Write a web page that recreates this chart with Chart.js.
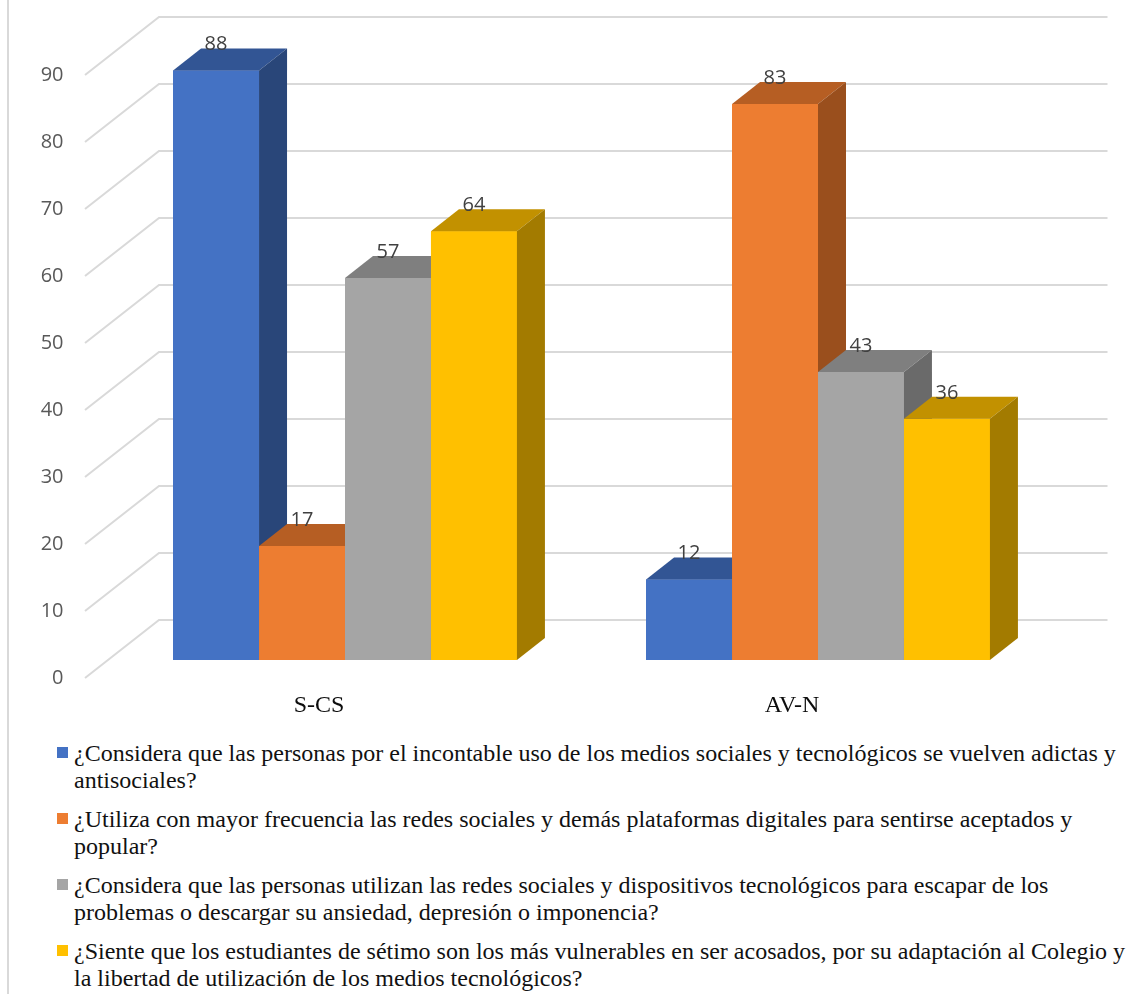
<!DOCTYPE html>
<html lang="es">
<head>
<meta charset="utf-8">
<title>Gráfico S-CS / AV-N</title>
<script src="https://cdn.jsdelivr.net/npm/chart.js@4/dist/chart.umd.min.js"></script>
<style>
    body { margin: 0; background: #fff; }
    #wrap { position: relative; width: 1146px; height: 994px; overflow: hidden; }
    #frame { position: absolute; left: 7px; top: 0; width: 2px; height: 994px; background: #d9d9d9; }
    #chart { position: absolute; left: 0; top: 0; }
    #legend { position: absolute; left: 0; top: 740px; width: 1146px; }
    .item { position: relative; padding-left: 74px; margin-bottom: 12px; white-space: nowrap;
            font: 24px "Liberation Serif", "Times New Roman", serif; line-height: 27px; color: #111; }
    .box { position: absolute; left: 57px; top: 7px; width: 11px; height: 11px; }
</style>
</head>
<body>
<div id="wrap">
    <div id="frame"></div>
    <canvas id="chart" width="1146" height="730"></canvas>
    <div id="legend"></div>
</div>
<script>
// Datos del gráfico
const categories = ['S-CS', 'AV-N'];
const adictosValues = [88, 12];
const aceptadosValues = [17, 83];
const escaparValues = [57, 43];
const vulnerablesValues = [64, 36];
const yTicks = [0, 10, 20, 30, 40, 50, 60, 70, 80, 90];

const seriesLabels = [
    ['¿Considera que las personas por el incontable uso de los medios sociales y tecnológicos se vuelven adictas y',
     'antisociales?'],
    ['¿Utiliza con mayor frecuencia las redes sociales y demás plataformas digitales para sentirse aceptados y',
     'popular?'],
    ['¿Considera que las personas utilizan las redes sociales y dispositivos tecnológicos para escapar de los',
     'problemas o descargar su ansiedad, depresión o imponencia?'],
    ['¿Siente que los estudiantes de sétimo son los más vulnerables en ser acosados, por su adaptación al Colegio y',
     'la libertad de utilización de los medios tecnológicos?']
];
const seriesValues = [adictosValues, aceptadosValues, escaparValues, vulnerablesValues];

// Colores: cara frontal, superior y lateral
const frontColors = ['#4472C4', '#ED7D31', '#A5A5A5', '#FFC000'];
const topColors = ['#325594', '#B65E23', '#7F7F7F', '#C29100'];
const sideColors = ['#294679', '#9A4F1D', '#6A6A6A', '#A37B00'];

// Profundidad de las barras (px)
const DEPTH_X = 28;
const DEPTH_Y = -22;

// Plugin para el efecto 3D
const bar3dPlugin = {
    id: 'bar3d',
    // Rejilla en perspectiva (pared del fondo)
    beforeDatasetsDraw(chart) {
        const { ctx, chartArea: a, scales: { y } } = chart;
        ctx.save();
        ctx.strokeStyle = '#d9d9d9';
        ctx.lineWidth = 2;
        y.ticks.forEach(t => {
            const py = y.getPixelForValue(t.value);
            ctx.beginPath();
            ctx.moveTo(a.left - 23.5, py + 18);
            ctx.lineTo(a.left + 50.5, py - 40);
            ctx.lineTo(a.right + 53, py - 40);
            ctx.stroke();
        });
        ctx.restore();
    },
    // Barras de izquierda a derecha: cara frontal, superior y lateral
    afterDatasetsDraw(chart) {
        const ctx = chart.ctx;
        ctx.save();
        chart.data.datasets.forEach((ds, i) => {
            chart.getDatasetMeta(i).data.forEach(el => {
                const { x, y, base, width } = el.getProps(['x', 'y', 'base', 'width'], true);
                const l = x - width / 2;
                const r = x + width / 2;
                el.draw(ctx);
                ctx.fillStyle = topColors[i];
                ctx.beginPath();
                ctx.moveTo(l, y);
                ctx.lineTo(l + DEPTH_X, y + DEPTH_Y);
                ctx.lineTo(r + DEPTH_X, y + DEPTH_Y);
                ctx.lineTo(r, y);
                ctx.closePath();
                ctx.fill();
                ctx.fillStyle = sideColors[i];
                ctx.beginPath();
                ctx.moveTo(r, y);
                ctx.lineTo(r + DEPTH_X, y + DEPTH_Y);
                ctx.lineTo(r + DEPTH_X, base + DEPTH_Y);
                ctx.lineTo(r, base);
                ctx.closePath();
                ctx.fill();
            });
        });

        // Etiquetas de valores
        ctx.font = '20px "Open Sans", sans-serif';
        ctx.fillStyle = '#404040';
        ctx.textAlign = 'center';
        ctx.textBaseline = 'middle';
        chart.data.datasets.forEach((ds, i) => {
            chart.getDatasetMeta(i).data.forEach((el, j) => {
                ctx.fillText(String(ds.data[j]), el.x, el.y - 26);
            });
        });
        ctx.restore();
    }
};

const chart = new Chart(document.getElementById('chart'), {
    type: 'bar',
    data: {
        labels: categories,
        datasets: seriesValues.map((values, i) => ({
            label: seriesLabels[i].join(' '),
            data: values,
            backgroundColor: frontColors[i],
            borderWidth: 0
        }))
    },
    options: {
        responsive: false,
        animation: false,
        devicePixelRatio: 1,
        layout: { padding: { left: 38, right: 91.5, top: 57, bottom: 0 } },
        barPercentage: 1,
        categoryPercentage: 0.727,
        plugins: {
            legend: { display: false },
            tooltip: { enabled: false }
        },
        scales: {
            x: {
                grid: { display: false, drawTicks: false },
                border: { display: false },
                ticks: {
                    padding: 31,
                    labelOffset: -26,
                    color: '#0d0d0d',
                    font: { family: '"Liberation Serif", "Times New Roman", serif', size: 24 }
                },
                afterFit: s => { s.height = 70; }
            },
            y: {
                min: 0,
                max: 90,
                grid: { display: false, drawTicks: false },
                border: { display: false },
                afterBuildTicks: s => { s.ticks = yTicks.map(v => ({ value: v })); },
                ticks: {
                    padding: 45,
                    labelOffset: 18,
                    color: '#595959',
                    font: { family: '"Open Sans", sans-serif', size: 20 }
                },
                afterFit: s => { s.width = 70.5; }
            }
        }
    },
    plugins: [bar3dPlugin]
});

// Leyenda en HTML (texto con varias líneas)
const legendEl = document.getElementById('legend');
seriesLabels.forEach((lines, i) => {
    const item = document.createElement('div');
    item.className = 'item';
    const box = document.createElement('span');
    box.className = 'box';
    box.style.background = frontColors[i];
    item.appendChild(box);
    lines.forEach((line, k) => {
        if (k > 0) item.appendChild(document.createElement('br'));
        item.appendChild(document.createTextNode(line));
    });
    legendEl.appendChild(item);
});
</script>
</body>
</html>
